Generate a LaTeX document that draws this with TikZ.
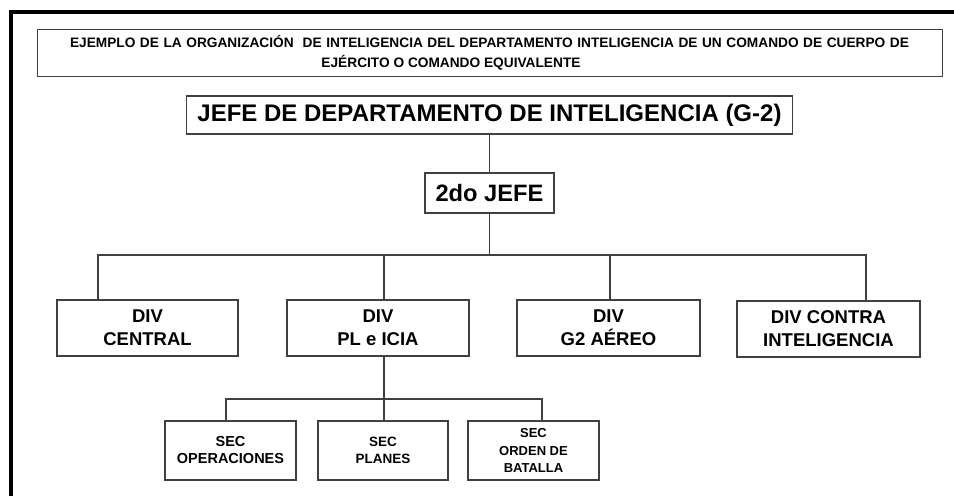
\documentclass[tikz,border=0pt]{standalone}
\usepackage{fontspec}
\setmainfont{Liberation Sans}
\definecolor{lc}{HTML}{404040}
\tikzset{
  box/.style={draw=lc, line width=1.3pt, rectangle, inner sep=0pt, align=center, font=\bfseries},
  divbox/.style={box, minimum height=56pt, font=\fontsize{18.5}{23}\selectfont\bfseries},
  secbox/.style={box, minimum height=59pt, minimum width=131pt, font=\fontsize{14.5}{17}\selectfont\bfseries},
  conn/.style={draw=lc, line width=1.3pt},
}
\begin{document}
\begin{tikzpicture}[x=1pt,y=-1pt]
\useasboundingbox (0,0) rectangle (954,496);
\fill[white] (0,0) rectangle (954,496);
% outer frame (top and left)
\draw[line width=4pt, black] (11,496) -- (11,12) -- (954,12);

\node[box, draw=lc, line width=1pt, minimum width=905pt, minimum height=47pt, font=\fontsize{13.7}{20}\selectfont\bfseries] (title) at (489.5,52.5)
  {\makebox[839pt][s]{EJEMPLO DE LA ORGANIZACIÓN \ DE INTELIGENCIA DEL DEPARTAMENTO INTELIGENCIA DE UN COMANDO DE CUERPO DE}\\
   EJÉRCITO O COMANDO EQUIVALENTE\hspace*{77pt}};

\node[box, minimum width=606pt, minimum height=38pt, font=\fontsize{24}{28}\selectfont\bfseries] (jefe) at (489.5,115)
  {JEFE DE DEPARTAMENTO DE INTELIGENCIA (G-2)};

\node[box, minimum width=129pt, minimum height=40pt, font=\fontsize{23.7}{28}\selectfont\bfseries] (sub) at (489.5,193)
  {2do JEFE};

\node[divbox, minimum width=181pt] (central) at (147.5,328) {DIV\\CENTRAL};
\node[divbox, minimum width=182pt] (pl) at (378,328) {DIV\\PL e ICIA};
\node[divbox, minimum width=183pt] (g2) at (608.5,328) {DIV\\G2 AÉREO};
\node[divbox, minimum width=183pt] (contra) at (828.5,329) {DIV CONTRA\\INTELIGENCIA};

\node[secbox] (oper) at (230.5,450.5) {SEC\\OPERACIONES};
\node[secbox, minimum width=130pt, font=\fontsize{13.5}{17}\selectfont\bfseries] (planes) at (383,450.5) {SEC\\PLANES};
\node[secbox, font=\fontsize{13}{17.5}\selectfont\bfseries] (orden) at (533.5,450.5) {SEC\\ORDEN DE\\BATALLA};

\coordinate (bar) at (489.5,255);
\coordinate (bar2) at (384,399);

\draw[conn] (jefe.south) -- (sub.north);
\draw[conn] (sub.south) -- (bar);
\draw[conn] ([xshift=-49.5pt]central.north) |- (bar) -| ([xshift=37.5pt]contra.north);
\draw[conn] ([xshift=6pt]pl.north) |- (bar);
\draw[conn] ([xshift=1.5pt]g2.north) |- (bar);

\draw[conn] ([xshift=6pt]pl.south) -- (bar2);
\draw[conn] ([xshift=-4.5pt]oper.north) |- (bar2) -| ([xshift=8.5pt]orden.north);
\draw[conn] (bar2) -- ([xshift=1pt]planes.north);
\end{tikzpicture}
\end{document}
